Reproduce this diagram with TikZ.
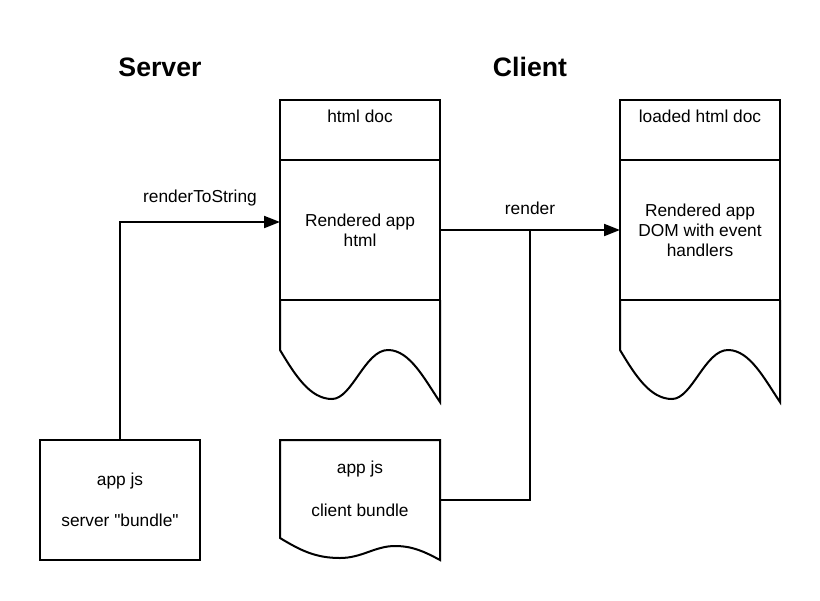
\documentclass[tikz,border=0pt]{standalone}
\usepackage{fontspec}
\setmainfont{Liberation Sans}[Ligatures=TeXOff]
\usetikzlibrary{%
    arrows.meta,
    positioning
}

\begin{document}
\begin{tikzpicture}[x=0.75pt, y=-0.75pt, line width=1.5pt,
    txt/.style={font=\fontsize{13}{15}\selectfont, align=center},
    heading/.style={font=\fontsize{20}{24}\selectfont\bfseries},
    part/.style={draw, txt, outer sep=0pt, inner sep=0pt, minimum width=120pt},
    conn/.style={-{Triangle[length=12pt,width=9pt]}}
   ]
    \useasboundingbox (0,0) rectangle (820,600);

    \node[heading] (server) at (160,67) {Server};
    \node[heading] (client) at (530,67) {Client};

    % html doc as the server sends it
    \node[part, minimum height=45pt]  (htmlhead) at (360,130) {};
    \node[part, minimum height=105pt] (htmlbody) at (360,230) {Rendered app\\html};
    \node[txt, below=3pt of htmlhead.north] (htmlheadtxt) {html doc};

    % the same doc once loaded
    \node[part, minimum height=45pt]  (loadedhead) at (700,130) {};
    \node[part, minimum height=105pt] (loadedbody) at (700,230) {Rendered app\\DOM with event\\handlers};
    \node[txt, below=3pt of loadedhead.north] (loadedheadtxt) {loaded html doc};

    \foreach \Doc in {htmlbody,loadedbody}
        \draw (\Doc.south west) -- ++(0,50)
              .. controls +(15,25) and +(-22,0) .. ++(52,49)
              .. controls +(20,0) and +(-23,0) .. ++(56,-49)
              .. controls +(22,0) and +(-15,-22) .. ++(52,52)
              -- (\Doc.south east);

    % bundles
    \node[part, minimum height=90pt] (srvbundle) at (120,500) {app js\\[15.75pt]server "bundle"};
    \node[minimum width=120pt, minimum height=90pt, outer sep=0pt] (clibundle) at (360,500) {};
    \node[txt] (clitext) at ([yshift=8.5pt]clibundle.center) {app js\\[17pt]client bundle};
    \draw (clibundle.north west) -- (clibundle.north east) -- (clibundle.south east)
          .. controls +(-15,-8) and +(18,0) .. ++(-45,-14)
          .. controls +(-20,0) and +(22,0) .. ++(-55,12)
          .. controls +(-25,0) and +(20,12) .. ++(-60,-20)
          -- cycle;

    \draw[conn] (srvbundle.north) |- node[txt, pos=.75, above=7.5pt] (rtslbl) {renderToString}
                ([yshift=6pt]htmlbody.west);
    \draw[conn] (htmlbody.east) -- node[txt, above=7.5pt] (renderlbl) {render} (loadedbody.west);
    \draw (clibundle.east) -| (renderlbl |- htmlbody.east);
\end{tikzpicture}
\end{document}
